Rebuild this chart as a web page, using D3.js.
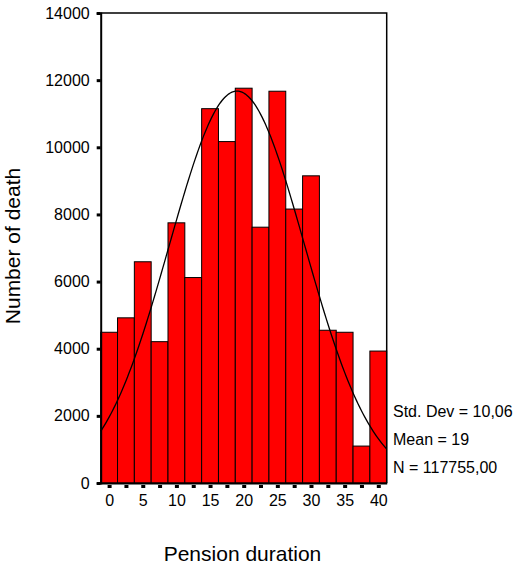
<!DOCTYPE html>
<html>
<head>
<meta charset="utf-8">
<script src="https://cdn.jsdelivr.net/npm/d3@7/dist/d3.min.js"></script>
<style>
  html, body { margin: 0; padding: 0; background: #fff; }
  svg { display: block; font-family: "Liberation Sans", Arial, sans-serif; }
</style>
</head>
<body>
<svg id="chart" width="520" height="564"></svg>
<script>
// Histogram of pension duration (bin width 2.5), counts of deaths per bin
const binCenters = [0, 2.5, 5, 7.5, 10, 12.5, 15, 17.5, 20, 22.5, 25, 27.5, 30, 32.5, 35, 37.5, 40];
const deathCounts = [4490, 4920, 6590, 4210, 7750, 6120, 11150, 10170, 11760, 7620, 11670, 8160, 9150, 4550, 4490, 1100, 3930];
const yTickValues = [0, 2000, 4000, 6000, 8000, 10000, 12000, 14000];
const xTickLabels = [0, 5, 10, 15, 20, 25, 30, 35, 40];
const statLabels = ["Std. Dev = 10,06", "Mean = 19", "N = 117755,00"];
const stdDev = 10.06;
const meanValue = 19;
const totalN = 117755;
const binWidth = 2.5;

const svg = d3.select("#chart");
const plot = { left: 100.7, right: 386.7, top: 13, bottom: 483 };

const x = d3.scaleLinear()
  .domain([binCenters[0] - binWidth / 2, binCenters[binCenters.length - 1] + binWidth / 2])
  .range([plot.left, plot.right]);
const y = d3.scaleLinear().domain([0, 14000]).range([plot.bottom, plot.top]);

// Bars
svg.append("g").selectAll("rect")
  .data(binCenters.map((c, i) => ({ c, v: deathCounts[i] })))
  .join("rect")
  .attr("x", d => x(d.c - binWidth / 2))
  .attr("width", d => x(d.c + binWidth / 2) - x(d.c - binWidth / 2))
  .attr("y", d => y(d.v))
  .attr("height", d => y(0) - y(d.v))
  .attr("fill", "#ff0000")
  .attr("stroke", "#000")
  .attr("stroke-width", 1);

// Fitted normal curve scaled to counts
const normal = xv => totalN * binWidth / (stdDev * Math.sqrt(2 * Math.PI)) *
  Math.exp(-0.5 * Math.pow((xv - meanValue) / stdDev, 2));
const curveXs = d3.range(x.domain()[0], x.domain()[1] + 0.001, 0.25);
svg.append("path")
  .datum(curveXs)
  .attr("fill", "none")
  .attr("stroke", "#000")
  .attr("stroke-width", 1.3)
  .attr("d", d3.line().x(d => x(d)).y(d => y(normal(d))));

// Frame (top and right)
svg.append("path")
  .attr("d", `M${plot.left},${plot.top}H${plot.right}V${plot.bottom}`)
  .attr("fill", "none")
  .attr("stroke", "#000")
  .attr("stroke-width", 1.5);

// Y axis
const yAxis = svg.append("g")
  .attr("transform", `translate(${plot.left},0)`)
  .call(d3.axisLeft(y).tickValues(yTickValues).tickSize(4).tickPadding(7).tickFormat(d3.format("d")));
yAxis.select(".domain").attr("stroke-width", 2);
yAxis.selectAll(".tick line").attr("stroke-width", 3);
yAxis.selectAll(".tick text")
  .attr("font-size", 16)
  .attr("font-family", "Liberation Sans, Arial, sans-serif")
  .attr("fill", "#000");

// X axis
const xAxis = svg.append("g")
  .attr("transform", `translate(0,${plot.bottom})`)
  .call(d3.axisBottom(x).tickValues(binCenters).tickSize(0).tickPadding(12)
    .tickFormat(d => xTickLabels.includes(d) ? d : ""));
xAxis.select(".domain").attr("stroke-width", 2);
xAxis.selectAll(".tick line")
  .attr("y1", 2).attr("y2", 5)
  .attr("stroke-width", 4);
xAxis.selectAll(".tick text")
  .attr("font-size", 16)
  .attr("font-family", "Liberation Sans, Arial, sans-serif")
  .attr("fill", "#000");

// Axis titles
svg.append("text")
  .attr("transform", "translate(20,246) rotate(-90)")
  .attr("text-anchor", "middle")
  .attr("font-size", 21)
  .text("Number of death");
svg.append("text")
  .attr("x", 242.5).attr("y", 561)
  .attr("text-anchor", "middle")
  .attr("font-size", 21)
  .text("Pension duration");

// Summary statistics
svg.append("g").selectAll("text")
  .data(statLabels)
  .join("text")
  .attr("x", 393)
  .attr("y", (d, i) => 417 + i * 28)
  .attr("font-size", 16)
  .text(d => d);
</script>
</body>
</html>
